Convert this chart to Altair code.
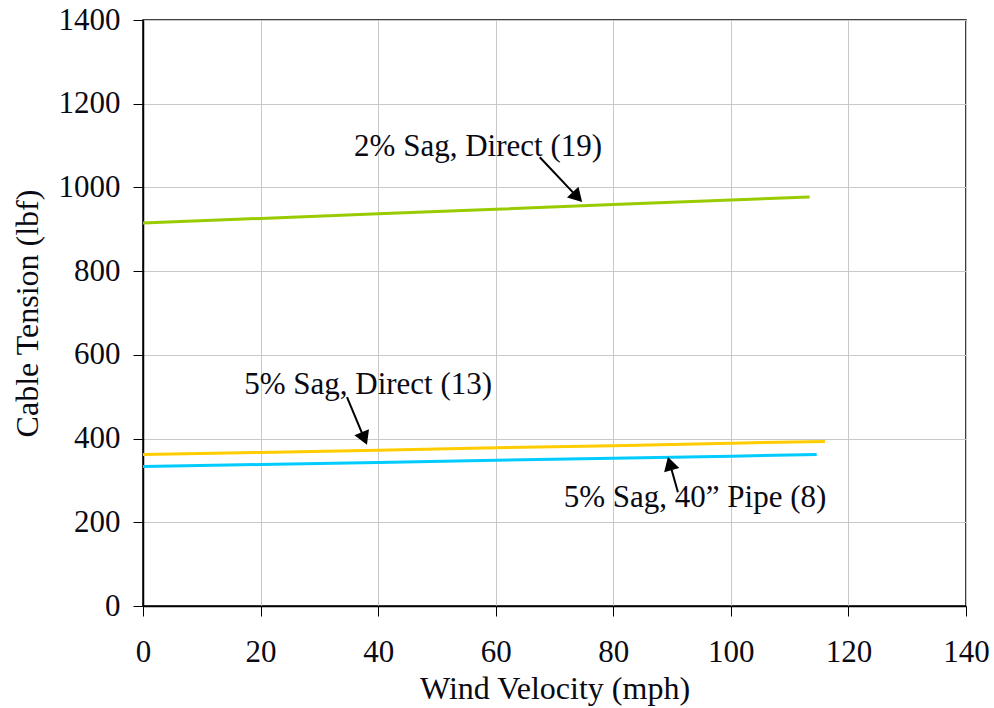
import math
import altair as alt
import pandas as pd

# Cable tension vs. wind velocity for three sag / mounting configurations
wind_2_direct = [0, 20, 40, 60, 80, 100, 113.4]
tension_2_direct = [915, 926, 937, 948, 959, 970, 977]

wind_5_direct = [0, 20, 40, 60, 80, 100, 116]
tension_5_direct = [362, 367, 372, 378, 383, 389, 393]

wind_5_pipe = [0, 20, 40, 60, 80, 100, 114.6]
tension_5_pipe = [333, 338, 343, 348, 353, 358, 362]

series_names = ["2% Sag, Direct (19)", "5% Sag, Direct (13)", "5% Sag, 40\u201d Pipe (8)"]
series_colors = ["#99cc00", "#ffcc00", "#00ccff"]

# Callout labels: label anchor, arrow tail and arrow tip (data units)
label_x = [57.0, 38.3, 93.9]
label_y = [1096, 528, 258]
tail_x = [67.5, 34.7, 91.0]
tail_y = [1072, 499, 272]
tip_x = [74.7, 38.1, 89.3]
tip_y = [965, 385, 356]

W, H = 823, 586
X_MAX, Y_MAX = 140, 1400
FONT = "Liberation Serif"
TEXT_COLOR = "#0a0a14"

rows = []
for name, xs, ys in [
    (series_names[0], wind_2_direct, tension_2_direct),
    (series_names[1], wind_5_direct, tension_5_direct),
    (series_names[2], wind_5_pipe, tension_5_pipe),
]:
    for xv, yv in zip(xs, ys):
        rows.append({"series": name, "wind": xv, "tension": yv})
lines_df = pd.DataFrame(rows)

# arrowhead placement: triangle centred half its height back from the tip
head_size = 250
r = math.sqrt(head_size) / 2
half_h = math.sqrt(3) / 2 * r
px_x = W / X_MAX
px_y = H / Y_MAX
arrows = []
for i in range(3):
    dxp = (tip_x[i] - tail_x[i]) * px_x
    dyp = -(tip_y[i] - tail_y[i]) * px_y
    length = math.hypot(dxp, dyp)
    ux, uy = dxp / length, dyp / length
    angle = math.degrees(math.atan2(ux, -uy)) % 360
    arrows.append({
        "label": series_names[i],
        "lx": label_x[i], "ly": label_y[i],
        "x0": tail_x[i], "y0": tail_y[i],
        "x1": tip_x[i] - ux * half_h / px_x, "y1": tip_y[i] + uy * half_h / px_y,
        "hx": tip_x[i] - ux * half_h / px_x,
        "hy": tip_y[i] + uy * half_h / px_y,
        "angle": angle,
    })
arrow_df = pd.DataFrame(arrows)

x_scale = alt.Scale(domain=[0, X_MAX], nice=False, zero=False)
y_scale = alt.Scale(domain=[0, Y_MAX], nice=False)

x_axis = alt.Axis(
    title="Wind Velocity (mph)", values=list(range(0, 141, 20)), format="d",
    grid=True, gridColor="#c8c8c8", gridWidth=1,
    domainColor="#000", domainWidth=1.5, tickColor="#000", tickSize=10,
    labelFont=FONT, labelFontSize=31, labelColor=TEXT_COLOR, labelPadding=21,
    titleFont=FONT, titleFontSize=32, titleFontWeight="normal", titleColor=TEXT_COLOR,
    titlePadding=6, labelFlush=False,
)
y_axis = alt.Axis(
    title="Cable Tension (lbf)", values=list(range(0, 1401, 200)), format="d",
    grid=True, gridColor="#c8c8c8", gridWidth=1,
    domainColor="#000", domainWidth=1.5, tickColor="#000", tickSize=10,
    labelFont=FONT, labelFontSize=31, labelColor=TEXT_COLOR, labelPadding=13,
    titleFont=FONT, titleFontSize=32, titleFontWeight="normal", titleColor=TEXT_COLOR,
    titlePadding=14, labelFlush=False,
)

lines = alt.Chart(lines_df).mark_line(strokeWidth=3).encode(
    x=alt.X("wind:Q", scale=x_scale, axis=x_axis),
    y=alt.Y("tension:Q", scale=y_scale, axis=y_axis),
    color=alt.Color("series:N", scale=alt.Scale(domain=series_names, range=series_colors), legend=None),
    detail="series:N",
)

shafts = alt.Chart(arrow_df).mark_rule(color="#000", strokeWidth=2).encode(
    x=alt.X("x0:Q", scale=x_scale), y=alt.Y("y0:Q", scale=y_scale),
    x2="x1:Q", y2="y1:Q",
)

heads = alt.Chart(arrow_df).mark_point(
    shape="triangle-up", filled=True, color="#000", size=head_size, opacity=1, strokeWidth=0
).encode(
    x=alt.X("hx:Q", scale=x_scale), y=alt.Y("hy:Q", scale=y_scale),
    angle=alt.Angle("angle:Q", scale=None),
)

labels = alt.Chart(arrow_df).mark_text(
    font=FONT, fontSize=31, color=TEXT_COLOR, align="center", baseline="middle"
).encode(
    x=alt.X("lx:Q", scale=x_scale), y=alt.Y("ly:Q", scale=y_scale),
    text="label:N",
)

chart = alt.layer(lines, shafts, heads, labels).properties(
    width=W, height=H,
    autosize=alt.AutoSizeParams(type="none"),
    padding={"left": 143, "top": 20, "right": 28, "bottom": 102},
    background="#ffffff",
).configure_view(stroke="#000", strokeWidth=1.5)

chart.save("out.html", embed_options={"renderer": "svg", "actions": False})
